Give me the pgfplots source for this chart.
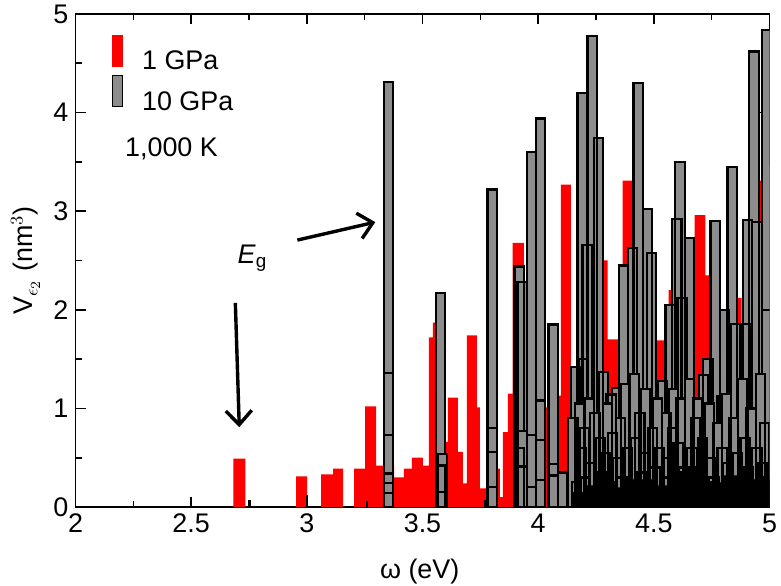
\documentclass[border=0pt]{standalone}
\usepackage{fontspec}
\setmainfont{Liberation Sans}
\usepackage{pgfplots}
\pgfplotsset{compat=1.18}
\usetikzlibrary{arrows.meta,calc}

\definecolor{barred}{RGB}{255,0,0}
\definecolor{bargray}{RGB}{140,140,140}

\begin{document}
\begin{tikzpicture}[font=\fontsize{13.5}{16}\selectfont]
\begin{axis}[
  scale only axis,
  width=347bp, height=246.5bp,
  xmin=2, xmax=5, ymin=0, ymax=5,
  xtick={2,2.5,...,5}, ytick={0,1,...,5},
  minor x tick num=1, minor y tick num=1,
  tick align=inside,
  major tick length=5bp, minor tick length=3bp,
  axis line style={line width=0.8bp},
  every tick/.style={black, line width=0.8bp},
  /pgf/number format/assume math mode=true,
  xlabel={ω (eV)},
  ylabel={V$_{\epsilon_2}$ (nm$^3$)},
  every axis x label/.style={at={(axis description cs:0.496,0)}, yshift=-32.5bp, anchor=center},
  every axis y label/.style={at={(axis description cs:-0.072,0.5)}, rotate=90, anchor=center},
  legend style={draw=none, fill=none, at={(axis cs:2.154,4.79)}, anchor=north west,
    inner sep=0pt, row sep=0bp, column sep=8.5bp, nodes={inner sep=1bp}},
  legend cell align=left,
]

% 1 GPa: red bars merged into one step outline
\addplot[const plot, fill=barred, draw=none, forget plot] coordinates {
 (2.682,0.49) (2.734,0) (2.954,0.31) (3.001,0) (3.062,0.33) (3.114,0.39) (3.157,0)
 (3.204,0.39) (3.252,1.02) (3.299,0.42) (3.377,0.30) (3.420,0.39) (3.454,0.50)
 (3.502,0.42) (3.528,1.72) (3.545,1.87) (3.554,0.50) (3.597,0.66) (3.610,1.11)
 (3.653,0.56) (3.675,0.24) (3.692,1.74) (3.735,1.01) (3.748,0.19) (3.774,0.20)
 (3.821,0.39) (3.834,0.10) (3.847,0.76) (3.869,1.15) (3.890,2.68) (3.938,1.00)
 (4.028,1.01) (4.041,0.80) (4.085,1.13) (4.098,3.27) (4.141,1.00) (4.279,2.50)
 (4.300,1.70) (4.348,1.50) (4.365,3.31) (4.413,1.20) (4.508,1.69) (4.546,1.00)
 (4.564,2.20) (4.577,1.00) (4.676,2.96) (4.723,2.35) (4.745,1.00) (4.857,2.12)
 (4.879,1.50) (4.948,3.31) (4.965,2.00) (4.993,3.47) (5.010,3.47)
} \closedcycle;

% 10 GPa: tall bars, drawn tallest first
\addplot[ybar, bar width=0.04, bar shift=0pt, fill=bargray, draw=black, line width=1.1bp, forget plot] coordinates {
 (4.989,4.84) (4.233,4.78) (4.933,4.62) (3.354,4.31) (4.432,4.30) (4.190,4.20)
 (4.009,3.94) (4.261,3.74) (3.972,3.60) (4.613,3.50) (4.838,3.45) (3.801,3.22)
 (4.473,3.02) (4.600,2.92) (4.905,2.91) (4.765,2.90) (4.946,2.89) (4.654,2.73)
 (4.212,2.66) (4.408,2.63) (4.490,2.58) (4.370,2.45) (3.918,2.44) (3.931,2.28)
 (3.577,2.17) (4.622,2.12) (4.570,2.05) (4.806,2.00) (4.989,2.00) (4.855,1.86)
 (4.895,1.86) (4.065,1.85) (4.197,1.50) (4.734,1.50) (4.162,1.42) (4.283,1.37)
 (4.715,1.34) (4.538,1.28) (4.339,1.21) (4.315,1.14) (4.795,1.12)
};

% 10 GPa: short bars
\addplot[ybar, bar width=0.04, bar shift=0pt, fill=bargray, draw=black, line width=1.1bp, forget plot] coordinates {
 (3.354,1.36) (4.415,1.35) (4.960,1.35) (4.655,1.30) (4.885,1.30) (4.378,1.25)
 (4.465,1.20) (4.585,1.20) (4.815,1.15) (4.220,1.10) (4.515,1.10) (4.615,1.10)
 (4.690,1.10) (4.009,1.08) (4.178,1.05) (4.300,1.05) (4.740,1.05) (4.920,1.00)
 (4.245,0.95) (4.440,0.95) (4.555,0.95) (4.150,0.90) (4.355,0.90) (4.680,0.90)
 (4.845,0.90) (4.775,0.85) (4.980,0.85) (3.801,0.80) (4.200,0.80) (4.495,0.80)
 (4.580,0.80) (3.931,0.77) (4.322,0.75) (3.354,0.73) (3.972,0.73) (4.268,0.70)
 (4.420,0.70) (4.710,0.70) (4.895,0.70) (4.009,0.68) (4.605,0.65) (3.918,0.60)
 (4.185,0.60) (4.385,0.60) (4.525,0.60) (4.665,0.60) (4.795,0.60) (4.945,0.60)
 (3.801,0.56) (4.290,0.55) (4.460,0.55) (4.860,0.55) (3.585,0.54) (4.345,0.50)
 (4.562,0.50) (4.750,0.50) (4.228,0.45) (4.820,0.45) (4.970,0.45) (4.065,0.44)
 (3.577,0.42) (3.931,0.41) (4.505,0.40) (4.630,0.40) (4.700,0.40) (4.910,0.40)
 (4.105,0.35) (4.275,0.35) (4.445,0.35) (4.595,0.35) (3.354,0.34) (4.065,0.32)
 (4.205,0.30) (4.362,0.30) (4.545,0.30) (4.760,0.30) (4.830,0.30) (4.990,0.30)
 (4.009,0.27) (4.165,0.25) (4.310,0.25) (4.480,0.25) (4.725,0.25) (4.870,0.25)
 (3.354,0.24) (3.801,0.20) (3.972,0.20) (4.250,0.20) (4.395,0.20) (4.640,0.20)
 (4.785,0.20) (4.930,0.20) (3.577,0.15) (4.333,0.15) (3.354,0.14)
};

% thin spikes
\addplot[ybar, bar width=0.004, bar shift=0pt, fill=black, draw=black, line width=0.6bp, forget plot] coordinates {
 (2.752,0.06) (3.001,0.12) (3.260,0.05) (3.770,0.06)
};

% dense black base
\addplot[const plot, fill=black, draw=none, forget plot] coordinates {
 (4.145,0.15) (4.200,0.22) (4.300,0.20) (4.400,0.28) (4.500,0.22) (4.600,0.30)
 (4.700,0.25) (4.800,0.32) (4.900,0.28) (5.010,0.30)
} \closedcycle;

\addlegendimage{legend image code/.code={\fill[barred] (0bp,-2.25bp) rectangle (5bp,13.25bp);}}
\addlegendentry{1 GPa}
\addlegendimage{legend image code/.code={\draw[fill=bargray, line width=0.8bp] (0bp,-2.25bp) rectangle (5bp,13.25bp);}}
\addlegendentry{10 GPa}

\node at (axis cs:2.415,3.63) {1,000 K};
\node at (axis cs:2.765,2.52) {\textit{E}\textsubscript{g}};
\draw[line width=1.7bp, -{Straight Barb[length=7bp,width=13bp]}] (axis cs:2.691,2.07) -- (axis cs:2.708,0.81);
\draw[line width=1.7bp, -{Straight Barb[length=7bp,width=13bp]}] (axis cs:2.959,2.707) -- (axis cs:3.296,2.889);

\coordinate (ll) at (rel axis cs:0,0);
\coordinate (ur) at (rel axis cs:1,1);
\end{axis}
\pgfresetboundingbox
\path ($(ll)+(-37.75bp,-39.5bp)$) rectangle ($(ur)+(5.75bp,7bp)$);
\end{tikzpicture}
\end{document}
